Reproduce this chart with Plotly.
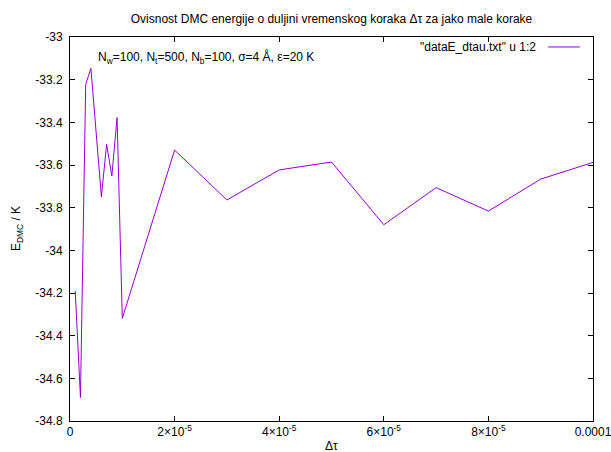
import plotly.graph_objects as go

# Data
dtau = [1e-6, 2e-6, 3e-6, 4e-6, 6e-6, 7e-6, 8e-6, 9e-6, 1e-5,
        2e-5, 3e-5, 4e-5, 5e-5, 6e-5, 7e-5, 8e-5, 9e-5, 1e-4]
energy = [-34.19, -34.69, -33.222, -33.147, -33.749, -33.503, -33.652, -33.378, -34.319,
          -33.530, -33.764, -33.623, -33.586, -33.880, -33.706, -33.816, -33.666, -33.588]

x_tickvals = [0, 2e-5, 4e-5, 6e-5, 8e-5, 1e-4]
x_ticktext = ["0", "2×10<sup>-5</sup>", "4×10<sup>-5</sup>", "6×10<sup>-5</sup>",
              "8×10<sup>-5</sup>", "0.0001"]
y_tickvals = [-33, -33.2, -33.4, -33.6, -33.8, -34, -34.2, -34.4, -34.6, -34.8]
y_ticktext = ["-33", "-33.2", "-33.4", "-33.6", "-33.8", "-34", "-34.2", "-34.4", "-34.6", "-34.8"]

title_text = "Ovisnost DMC energije o duljini vremenskog koraka Δτ za jako male korake"
legend_text = '"dataE_dtau.txt" u 1:2'
label_text = "N<sub>w</sub>=100, N<sub>t</sub>=500, N<sub>b</sub>=100, σ=4 Å, ε=20 K"
line_color = "#9400D3"
font_family = "Liberation Sans, Arial, sans-serif"

fig = go.Figure()
fig.add_trace(go.Scatter(x=dtau, y=energy, mode="lines",
                         line=dict(color=line_color, width=1),
                         showlegend=False))

fig.update_layout(
    width=611, height=452,
    margin=dict(l=70, r=18, t=37, b=31, autoexpand=False),
    paper_bgcolor="white", plot_bgcolor="white",
    font=dict(family=font_family, size=12, color="black"),
    showlegend=False,
    title=dict(text=title_text, x=0.5, xref="paper", xanchor="center",
               y=1 - 19 / 452, yref="container", yanchor="middle",
               font=dict(size=12, color="black")),
)
fig.update_xaxes(range=[0, 1e-4], tickvals=x_tickvals, ticktext=x_ticktext,
                 showgrid=False, zeroline=False, showline=True, linecolor="black",
                 linewidth=1, mirror="ticks", ticks="inside", ticklen=5,
                 tickcolor="black", tickfont=dict(size=12),
                 ticklabeloverflow="allow", automargin=False)
fig.update_yaxes(range=[-34.8, -33], tickvals=y_tickvals, ticktext=y_ticktext,
                 showgrid=False, zeroline=False, showline=True, linecolor="black",
                 linewidth=1, mirror="ticks", ticks="inside", ticklen=5,
                 tickcolor="black", tickfont=dict(size=12), ticklabelstandoff=4,
                 ticklabeloverflow="allow", automargin=False)

# axis titles
fig.add_annotation(text="Δτ", xref="paper", yref="paper", x=0.5, y=0,
                   yshift=-25, xanchor="center", yanchor="middle",
                   showarrow=False, font=dict(size=12))
fig.add_annotation(text="E<sub>DMC</sub> / K", xref="paper", yref="paper",
                   x=0, y=0.5, xshift=-53, xanchor="center", yanchor="middle",
                   textangle=-90, showarrow=False, font=dict(size=12))
# label inside plot
fig.add_annotation(text=label_text, xref="paper", yref="paper", x=0, y=1,
                   xshift=26, yshift=-20, xanchor="left", yanchor="middle",
                   showarrow=False, font=dict(size=12))
# gnuplot-style key: text then sample line
fig.add_annotation(text=legend_text, xref="paper", yref="paper", x=1, y=1,
                   xshift=-55, yshift=-10, xanchor="right", yanchor="middle",
                   showarrow=False, font=dict(size=12))
fig.add_shape(type="line", xref="paper", yref="paper",
              x0=(548 - 70) / 523, x1=(580 - 70) / 523,
              y0=1 - 10 / 385, y1=1 - 10 / 385,
              line=dict(color=line_color, width=1))

fig.write_html("out.html", config={"displayModeBar": False},
               post_script="document.body.style.margin='0px';document.body.style.overflow='hidden';")
